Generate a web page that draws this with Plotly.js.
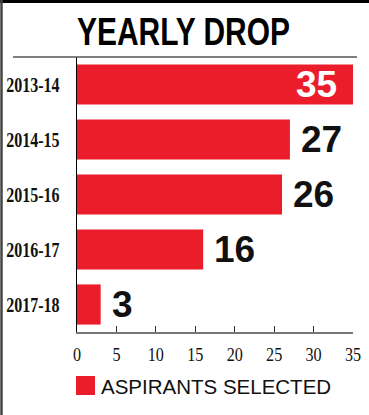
<!DOCTYPE html>
<html>
<head>
<meta charset="utf-8">
<script src="https://cdn.plot.ly/plotly-3.0.1.min.js"></script>
<style>html,body{margin:0;padding:0;background:#fff;}#chart{width:369px;height:415px;}</style>
</head>
<body>
<div id="chart"></div>
<script>
var years = ['2013-14', '2014-15', '2015-16', '2016-17', '2017-18'];
var selected = [35, 27, 26, 16, 3];
var xTicks = [0, 5, 10, 15, 20, 25, 30, 35];
var titleText = 'YEARLY DROP';
var legendText = 'ASPIRANTS SELECTED';

var red = '#ec1d2b';
var numFont = {family: 'Liberation Sans, Arial, sans-serif', size: 37, color: '#111', weight: 'bold'};

var annotations = selected.map(function (v, i) {
  var inside = (i === 0);
  return {
    x: v, y: years[i], xref: 'x', yref: 'y',
    text: String(v), showarrow: false,
    xanchor: inside ? 'right' : 'left',
    xshift: inside ? -14 : 9,
    font: Object.assign({}, numFont, {color: inside ? '#ffffff' : '#111111'})
  };
});
annotations.push({
  xref: 'paper', yref: 'paper', x: 0, y: 0, xshift: 22, yshift: -54,
  xanchor: 'left', yanchor: 'middle', showarrow: false,
  text: legendText,
  font: {family: 'Liberation Sans, Arial, sans-serif', size: 20.5, color: '#111'}
});

var data = [{
  type: 'bar', orientation: 'h',
  x: selected, y: years,
  marker: {color: red},
  hoverinfo: 'none',
  showlegend: false
}];

var layout = {
  width: 369, height: 415,
  margin: {l: 77, r: 16, t: 57, b: 83, pad: 0},
  paper_bgcolor: '#fff', plot_bgcolor: '#fff',
  bargap: 0.27,
  title: {
    text: titleText,
    font: {family: 'Liberation Sans, Arial, sans-serif', size: 39, color: '#000', weight: 'bold'},
    x: 183.5 / 369, xanchor: 'center', xref: 'container',
    y: 1 - 31 / 415, yanchor: 'middle', yref: 'container'
  },
  xaxis: {
    range: [0, 35], tickvals: xTicks, ticktext: xTicks.map(String),
    ticks: 'inside', ticklen: 6, tickcolor: '#333', tickwidth: 1.2,
    showgrid: false, zeroline: false,
    showline: true, linecolor: '#777', linewidth: 2,
    tickfont: {family: 'Liberation Serif, Times New Roman, serif', size: 19, color: '#111'},
    ticklabelstandoff: 4,
    fixedrange: true
  },
  yaxis: {
    autorange: 'reversed', type: 'category',
    showgrid: false, zeroline: false,
    showline: true, linecolor: '#000', linewidth: 1.5,
    ticks: '',
    tickfont: {family: 'Liberation Serif, Times New Roman, serif', size: 20, color: '#111', weight: 'bold'},
    ticklabelstandoff: 12,
    fixedrange: true
  },
  annotations: annotations,
  shapes: [
    {type: 'line', xref: 'paper', yref: 'paper', x0: -64/276, x1: 1 + 4/276, y0: 1, y1: 1,
     line: {color: '#555', width: 1.5}},
    {type: 'rect', xref: 'paper', yref: 'paper', x0: -1/276, x1: 18/276, y0: -44/275, y1: -63/275,
     line: {width: 0}, fillcolor: red},
    {type: 'rect', xref: 'paper', yref: 'paper', x0: -77/276, x1: 1 + 16/276, y0: 1 + 54/275, y1: 1 + 57/275,
     line: {width: 0}, fillcolor: '#000'},
    {type: 'line', xref: 'paper', yref: 'paper', x0: -75.5/276, x1: -75.5/276, y0: -83/275, y1: 1 + 57/275,
     line: {color: '#444', width: 2.5}}
  ]
};

function squeeze(el, sx, anchorX) {
  var t = el.getAttribute('transform') || '';
  el.setAttribute('transform', t + ' translate(' + anchorX + ',0) scale(' + sx + ',1) translate(' + (-anchorX) + ',0)');
}

Plotly.newPlot('chart', data, layout, {displayModeBar: false, staticPlot: true}).then(function (gd) {
  var title = gd.querySelector('.gtitle');
  if (title) {
    var bb = title.getBBox();
    var target = 213;
    squeeze(title, target / bb.width, bb.x + bb.width / 2);
  }
  gd.querySelectorAll('.ytick text').forEach(function (t) {
    var bb = t.getBBox();
    squeeze(t, 0.8, bb.x + bb.width);
  });
  gd.querySelectorAll('.xtick text').forEach(function (t) {
    var bb = t.getBBox();
    squeeze(t, 0.85, bb.x + bb.width / 2);
  });
});
</script>
</body>
</html>
